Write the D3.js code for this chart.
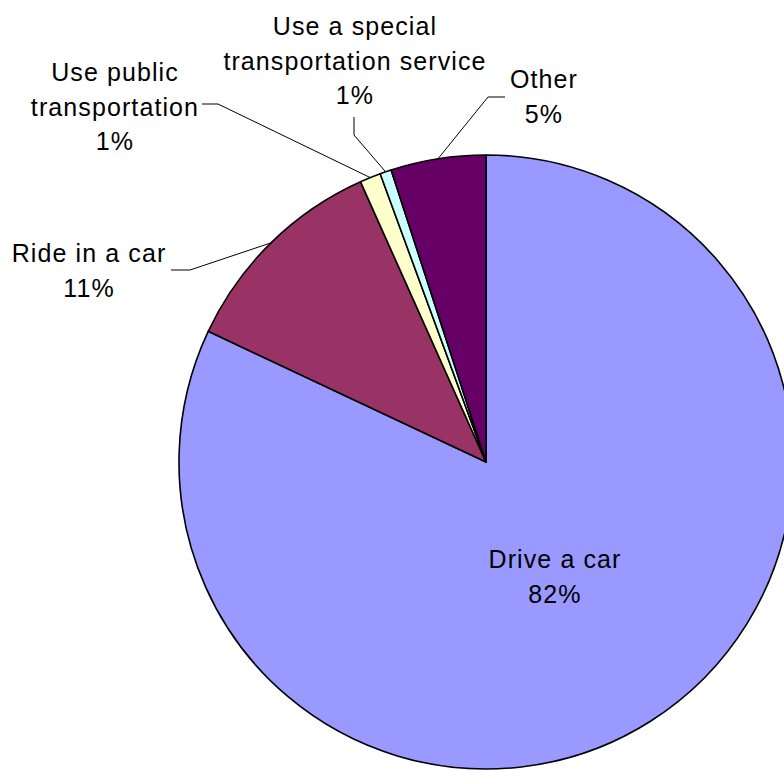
<!DOCTYPE html>
<html>
<head>
<meta charset="utf-8">
<script src="https://cdn.jsdelivr.net/npm/d3@7"></script>
<style>
  html, body { margin: 0; padding: 0; background: #fff; overflow: hidden; }
  svg { display: block; }
  text { font-family: "Liberation Sans", Arial, sans-serif; font-size: 25px; fill: #000; letter-spacing: 1.1px; }
</style>
</head>
<body>
<svg id="chart" width="784" height="770"></svg>
<script>
// ---- data ----
const categories = ["Drive a car", "Ride in a car", "Use public transportation", "Use a special transportation service", "Other"];
const values = [82.0, 11.3, 1.1, 0.6, 5.0];
const labelLines = [
  ["Drive a car"],
  ["Ride in a car"],
  ["Use public", "transportation"],
  ["Use a special", "transportation service"],
  ["Other"]
];
const colors = ["#9999FF", "#993366", "#FFFFCC", "#CCFFFF", "#660066"];

// ---- layout ----
const W = 784, H = 770;
const cx = 486, cy = 462, R = 307;
const lineH = 34.5;
// label anchor: x center, first baseline; leader: elbow points (null = inside label)
const labelLayout = [
  { x: 555, y: 568, leader: null },
  { x: 89,  y: 262, leader: [[171, 270], [190, 270]] },
  { x: 115, y: 81,  leader: [[202, 104], [218, 104]] },
  { x: 355, y: 35,  leader: [[354, 117], [354, 135]] },
  { x: 544, y: 88,  leader: [[505, 97], [488, 97]] }
];

const svg = d3.select("#chart");
const total = d3.sum(values);
const pie = d3.pie().sort(null).value(d => d)(values);
const arc = d3.arc().innerRadius(0).outerRadius(R);

const g = svg.append("g").attr("transform", `translate(${cx},${cy})`);
g.selectAll("path.slice").data(pie).enter().append("path")
  .attr("class", "slice")
  .attr("d", arc)
  .attr("fill", (d, i) => colors[i])
  .attr("stroke", "#000")
  .attr("stroke-width", 1.6)
  .attr("stroke-linejoin", "round");

// leader lines
pie.forEach((d, i) => {
  const L = labelLayout[i];
  if (!L.leader) return;
  const mid = (d.startAngle + d.endAngle) / 2;
  const rim = [cx + R * Math.sin(mid), cy - R * Math.cos(mid)];
  const pts = L.leader.concat([rim]);
  svg.append("path")
    .attr("d", d3.line()(pts))
    .attr("fill", "none")
    .attr("stroke", "#000")
    .attr("stroke-width", 1);
});

// labels
pie.forEach((d, i) => {
  const L = labelLayout[i];
  const pct = Math.round(values[i] / total * 100) + "%";
  const lines = labelLines[i].concat([pct]);
  const t = svg.append("text").attr("text-anchor", "middle");
  lines.forEach((s, k) => {
    t.append("tspan").attr("x", L.x).attr("y", L.y + k * lineH).text(s);
  });
});
</script>
</body>
</html>
